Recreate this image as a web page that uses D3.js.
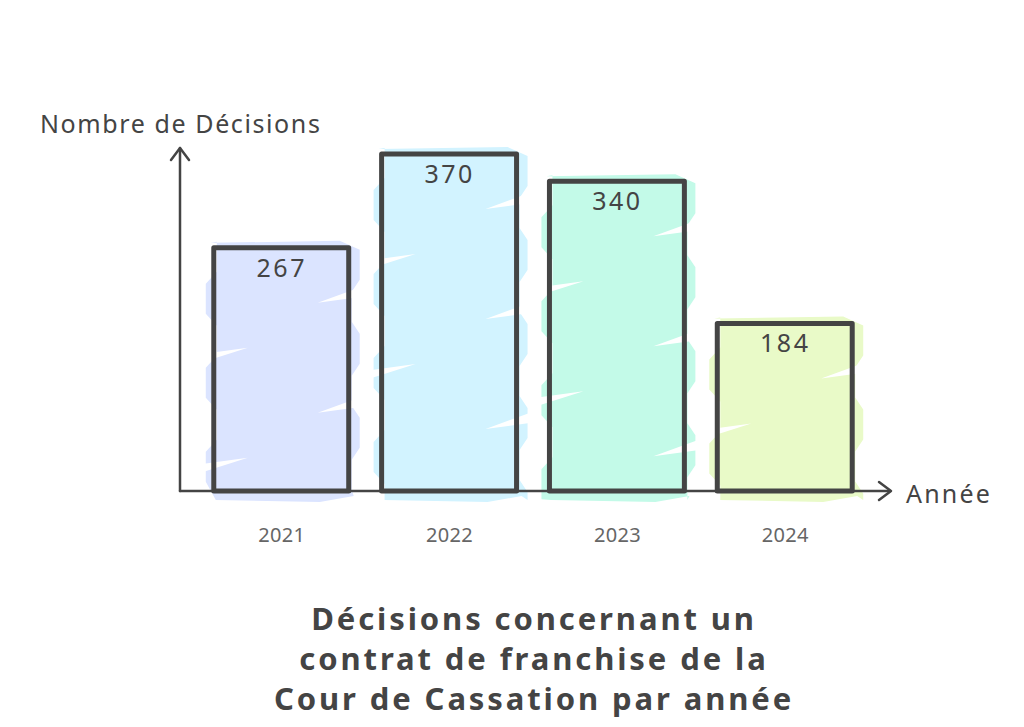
<!DOCTYPE html>
<html><head><meta charset="utf-8">
<script src="https://cdn.jsdelivr.net/npm/d3@7"></script>
<style>body{margin:0;background:#fff}svg{display:block}</style>
</head><body>
<svg id="c" width="1024" height="727"></svg>
<script>
const years = ["2021","2022","2023","2024"];
const decisions = [267, 370, 340, 184];
const fills = ["#dbe4ff","#d2f3ff","#c3fae8","#e9fac8"];
const yTitle = "Nombre de Décisions";
const xTitle = "Année";
const titleLines = ["Décisions concernant un","contrat de franchise de la","Cour de Cassation par année"];

const svg = d3.select("#c");
const ink = "#444";
const base = 491;
const font = "'Noto Sans', sans-serif";
const x = d3.scaleBand().domain(years).range([197, 870]).paddingInner(0.19).paddingOuter(0.1);
const y = d3.scaleLinear().domain([0, 370]).range([base, 154]);

// sketchy fill
const fillG = svg.append("g");
const bottom = base + 9;
years.forEach((yr, i) => {
  const x0 = x(yr), x1 = x0 + x.bandwidth(), y0 = y(decisions[i]);
  const g = fillG.append("g");
  const left = [], right = [];
  let k = 0;
  for (let t = y0 - 6; t < bottom - 10; t += 42, k++) {
    left.push([x0 + (k % 2 ? -8 : 3), t], [x0 + (k % 2 ? -8 : 3), Math.min(t + 30, bottom)]);
    right.push([x1 + (k % 2 ? 2 : 10), Math.min(t + 8, bottom)], [x1 + (k % 2 ? 2 : 10), Math.min(t + 38, bottom)]);
  }
  right.push([x1 + 4, bottom - 4]);
  left.push([x0 + 2, bottom]);
  const pts = [[x0 - 3, y0 - 5], [x1 - 10, y0 - 7]].concat(right, [[x1 - 30, bottom + 2]], left.reverse());
  g.append("path").attr("d", d3.line()(pts) + "Z").attr("fill", fills[i]);
  // small white wedges at edges
  for (let t = y0 + 45, j = 0; t < base - 25; t += 55, j++) {
    const pw = (j % 2 === 0)
      ? [[x1 - 32, t + 10], [x1 + 12, t - 6], [x1 + 12, t + 4]]
      : [[x0 + 34, t], [x0 - 10, t + 14], [x0 - 10, t + 6]];
    g.append("path").attr("d", d3.line()(pw) + "Z").attr("fill", "#fff");
  }
});

// axes
svg.append("line").attr("x1", 180).attr("y1", base).attr("x2", 180).attr("y2", 148)
  .attr("stroke", ink).attr("stroke-width", 2.5).attr("stroke-linecap", "round");
svg.append("path").attr("d", "M171,160 L180,148 L189,160").attr("fill", "none")
  .attr("stroke", ink).attr("stroke-width", 2.5).attr("stroke-linecap", "round").attr("stroke-linejoin","round");
svg.append("line").attr("x1", 180).attr("y1", base).attr("x2", 890).attr("y2", base)
  .attr("stroke", ink).attr("stroke-width", 2.5).attr("stroke-linecap", "round");
svg.append("path").attr("d", "M879,482 L891,491 L879,500").attr("fill", "none")
  .attr("stroke", ink).attr("stroke-width", 2.5).attr("stroke-linecap", "round").attr("stroke-linejoin","round");

// bar outlines
svg.append("g").selectAll("rect").data(decisions).join("rect")
  .attr("x", (d, i) => x(years[i]))
  .attr("y", d => y(d))
  .attr("width", x.bandwidth() - 1)
  .attr("height", d => base - y(d))
  .attr("fill", "none").attr("stroke", ink).attr("stroke-width", 5)
  .attr("stroke-linejoin", "round");

// value labels
svg.append("g").selectAll("text").data(decisions).join("text")
  .attr("x", (d, i) => x(years[i]) + x.bandwidth() / 2)
  .attr("y", d => y(d) + 29)
  .attr("text-anchor", "middle")
  .attr("font-family", font).attr("font-size", 25).attr("letter-spacing", 2.5)
  .attr("fill", ink).text(d => d);

// x tick labels
const xAxis = d3.axisBottom(x).tickSize(0).tickPadding(0);
const xa = svg.append("g").attr("transform", `translate(0,${base + 37})`).call(xAxis);
xa.select(".domain").remove();
xa.selectAll("text").attr("font-family", font).attr("font-size", 20).attr("letter-spacing", 0.3)
  .attr("fill", "#666").attr("dy", "0.71em");

// axis titles
svg.append("text").attr("x", 40).attr("y", 133).attr("font-family", font)
  .attr("font-size", 25).attr("letter-spacing", 1.6).attr("fill", ink).text(yTitle);
svg.append("text").attr("x", 906).attr("y", 503).attr("font-family", font)
  .attr("font-size", 25).attr("letter-spacing", 2.2).attr("fill", ink).text(xTitle);

// chart title
svg.append("g").selectAll("text").data(titleLines).join("text")
  .attr("x", 534).attr("y", (d, i) => 630 + i * 40)
  .attr("text-anchor", "middle")
  .attr("font-family", font).attr("font-weight", "bold").attr("letter-spacing", 2.9)
  .attr("font-size", 31).attr("fill", ink).text(d => d);
</script>
</body></html>
